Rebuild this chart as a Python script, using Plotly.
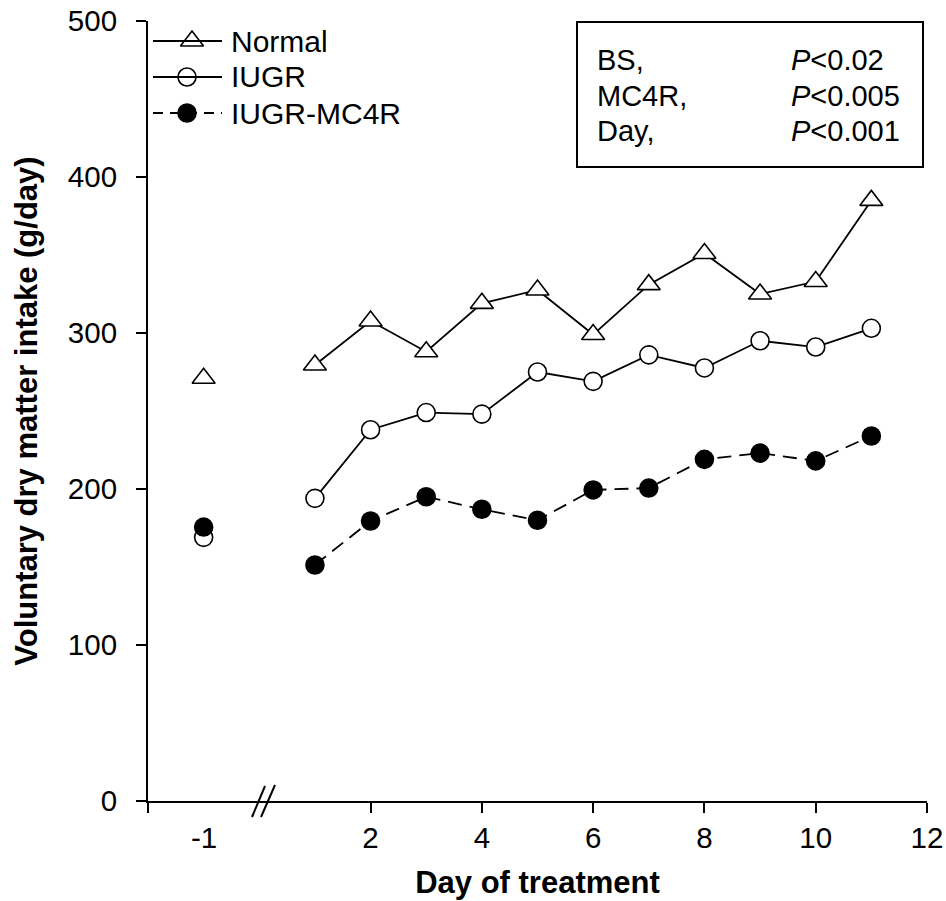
import plotly.graph_objects as go

# ---- data ----
series_names = ["Normal", "IUGR", "IUGR-MC4R"]
baseline_day = [-1]
baseline_normal = [271]
baseline_iugr = [169]
baseline_mc4r = [175.6]

days = [1, 2, 3, 4, 5, 6, 7, 8, 9, 10, 11]
normal = [279.5, 307.7, 288, 319, 327.6, 299, 331, 351, 325, 333, 385]
iugr = [194, 238, 249, 248, 275, 269, 286, 277.6, 295, 291, 303]
mc4r = [151.3, 179.5, 195, 187, 180, 199.4, 200.6, 219, 223, 218, 234]

x_tickvals = [-2, 2, 4, 6, 8, 10, 12]
x_ticktext = ["", "2", "4", "6", "8", "10", "12"]
y_tickvals = [0, 100, 200, 300, 400, 500]

stats_labels = ["BS,", "MC4R,", "Day,"]
stats_p = ["0.02", "0.005", "0.001"]

FONT = "Liberation Sans, Arial, sans-serif"
FS_TICK = 29.5
FS_LEG = 30
FS_STAT = 29
FS_TITLE = 31

# ---- geometry helpers (pixel -> paper) ----
W, H = 946, 901
ML, MR, MT, MB = 148, 19, 21, 100
PW, PH = W - ML - MR, H - MT - MB


def px(x):
    return (x - ML) / PW


def py(y):
    return (H - MB - y) / PH


styles = {
    "Normal": dict(symbol="triangle-up", color="white", size=20, dash="solid"),
    "IUGR": dict(symbol="circle", color="white", size=18, dash="solid"),
    "IUGR-MC4R": dict(symbol="circle", color="black", size=18, dash="14px,8px"),
}

fig = go.Figure()

for name, bx, by, xs, ys in [
    ("Normal", baseline_day, baseline_normal, days, normal),
    ("IUGR", baseline_day, baseline_iugr, days, iugr),
    ("IUGR-MC4R", baseline_day, baseline_mc4r, days, mc4r),
]:
    st = styles[name]
    mk = dict(symbol=st["symbol"], size=st["size"], color=st["color"],
              line=dict(color="black", width=1.6))
    fig.add_trace(go.Scatter(x=xs, y=ys, mode="lines+markers", name=name,
                             line=dict(color="black", width=1.8, dash=st["dash"]),
                             marker=mk, showlegend=False, cliponaxis=False))
    fig.add_trace(go.Scatter(x=bx, y=by, mode="markers", name=name,
                             marker=mk, showlegend=False, cliponaxis=False))

# ---- manual legend ----
leg_rows = [41, 77, 113]
leg_marker_x = [192, 187, 187]
shapes = []
for name, ry, mx in zip(series_names, leg_rows, leg_marker_x):
    st = styles[name]
    shapes.append(dict(type="line", xref="paper", yref="paper",
                       x0=px(153), x1=px(222), y0=py(ry), y1=py(ry),
                       line=dict(color="black", width=1.8,
                                 dash="solid" if st["dash"] == "solid" else "10px,7px")))
    fig.add_trace(go.Scatter(
        x=[px(mx)], y=[py(ry)], mode="markers", xaxis="x2", yaxis="y2",
        marker=dict(symbol=st["symbol"], size=st["size"], color=st["color"],
                    line=dict(color="black", width=1.6)),
        showlegend=False, hoverinfo="skip", cliponaxis=False))

annotations = []
for name, ry in zip(series_names, leg_rows):
    annotations.append(dict(text=name, xref="paper", yref="paper", x=px(229), y=py(ry),
                            xanchor="left", yanchor="middle", showarrow=False,
                            font=dict(family=FONT, size=FS_LEG, color="black")))

# ---- stats box ----
shapes.append(dict(type="rect", xref="paper", yref="paper",
                   x0=px(577), x1=px(923), y0=py(167), y1=py(22),
                   line=dict(color="black", width=2), fillcolor="white", layer="below"))
for lab, p, ry in zip(stats_labels, stats_p, [60, 96, 131]):
    annotations.append(dict(text=lab, xref="paper", yref="paper", x=px(595), y=py(ry),
                            xanchor="left", yanchor="middle", showarrow=False,
                            font=dict(family=FONT, size=FS_STAT, color="black")))
    annotations.append(dict(text="<i>P</i>&lt;" + p, xref="paper", yref="paper",
                            x=px(789), y=py(ry), xanchor="left", yanchor="middle",
                            showarrow=False, font=dict(family=FONT, size=FS_STAT, color="black")))

# ---- axis break mark ----
shapes.append(dict(type="line", xref="paper", yref="paper", x0=px(252), y0=py(817),
                   x1=px(265), y1=py(786), line=dict(color="black", width=2)))
shapes.append(dict(type="line", xref="paper", yref="paper", x0=px(261), y0=py(817),
                   x1=px(275), y1=py(785), line=dict(color="black", width=2)))

# ---- "-1" tick label ----
annotations.append(dict(text="-1", xref="x", yref="paper", x=-1, y=0,
                        xanchor="center", yanchor="top", yshift=-18, showarrow=False,
                        font=dict(family=FONT, size=FS_TICK, color="black")))

fig.update_layout(
    width=W, height=H,
    margin=dict(l=ML, r=MR, t=MT, b=MB, autoexpand=False),
    paper_bgcolor="white", plot_bgcolor="white",
    font=dict(family=FONT, size=FS_TICK, color="black"),
    showlegend=False,
    xaxis=dict(range=[-2, 12], tickmode="array", tickvals=x_tickvals, ticktext=x_ticktext,
               showline=True, linecolor="black", linewidth=2, ticks="outside",
               ticklen=10, tickwidth=2, tickcolor="black", showgrid=False, zeroline=False,
               automargin=False, tickfont=dict(family=FONT, size=FS_TICK),
               title=dict(text="Day of treatment", standoff=18,
                          font=dict(family=FONT, size=FS_TITLE, weight="bold"))),
    yaxis=dict(range=[0, 500], tickmode="array", tickvals=y_tickvals,
               showline=True, linecolor="black", linewidth=2, ticks="outside",
               ticklen=10, tickwidth=2, tickcolor="black", showgrid=False, zeroline=False,
               automargin=False, tickfont=dict(family=FONT, size=FS_TICK),
               ticklabelstandoff=13,
               title=dict(text="Voluntary dry matter intake (g/day)", standoff=21,
                          font=dict(family=FONT, size=FS_TITLE, weight="bold"))),
    xaxis2=dict(overlaying="x", range=[0, 1], visible=False),
    yaxis2=dict(overlaying="y", range=[0, 1], visible=False),
    shapes=shapes,
    annotations=annotations,
)

fig.write_html(
    "out.html",
    config={"displayModeBar": False},
    post_script="document.body.style.margin='0';document.body.style.overflow='hidden';",
)
